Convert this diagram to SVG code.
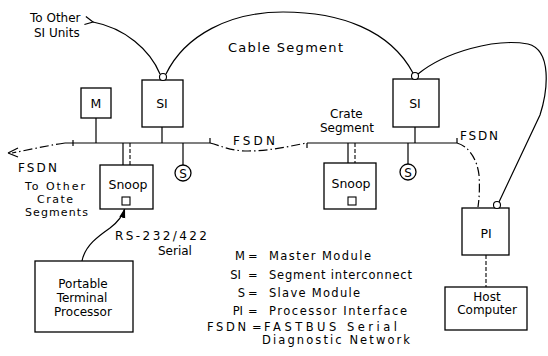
<svg xmlns="http://www.w3.org/2000/svg" width="548" height="356" viewBox="0 0 548 356">
<style>
text{font-family:"DejaVu Sans","Liberation Sans",sans-serif;font-size:12px;fill:#000}
.lg{font-size:11.5px}
.sm{font-size:11px}
.bx{font-size:12.5px}
.box{fill:#fff;stroke:#000;stroke-width:1.3}
.ln{fill:none;stroke:#000;stroke-width:1.2}
.dd{fill:none;stroke:#000;stroke-width:1.2;stroke-dasharray:9 3 1.5 3}
.ds{fill:none;stroke:#000;stroke-width:1.1;stroke-dasharray:4 2}
.port{fill:#fff;stroke:#000;stroke-width:1.1}
.c{text-anchor:middle}
</style>
<defs>
<marker id="open" markerWidth="12" markerHeight="12" refX="1" refY="5" orient="auto-start-reverse" markerUnits="userSpaceOnUse">
<path d="M9,1 L1,5 L9,9" fill="none" stroke="#000" stroke-width="1.2"/>
</marker>
<marker id="fill" markerWidth="12" markerHeight="10" refX="10" refY="4" orient="auto" markerUnits="userSpaceOnUse">
<path d="M0,1 L10,4 L0,7 Z" fill="#000"/>
</marker>
</defs>

<g id="connectors">
<path class="ln" d="M160,74 C150,50 125,28 93,22" marker-end="url(#open)"/>
<path class="ln" d="M166,74 C185,35 230,12 283,12 C340,12 390,30 413,73"/>
<path class="ln" d="M418,74 C445,52 495,38 528,44 C552,50 548,90 540,115 L499,202"/>
<path class="ln" d="M65,143 L210,143 M210,143 L210,138 M73,140 L73,146"/>
<path class="dd" d="M65,143 C45,146 28,150 12,153"/>
<path class="ln" d="M8,153 L18,148 M8,153 L18,157"/>
<path class="dd" d="M210,143 C222,146 230,151 248,151 C270,151 290,146 307,143"/>
<path class="ln" d="M307,143 L457,143 M307,143 L307,148 M457,143 L457,138"/>
<path class="dd" d="M457,143 C468,146 477,158 479,175 C480,190 479,200 478,207"/>
<path class="ln" d="M96,118 L96,143 M162,127 L162,143 M183,143 L183,165 M415,127 L415,143 M408,143 L408,164"/>
<path class="ln" d="M123,143 L123,165 M348,143 L348,163"/>
<path class="ds" d="M130,143 L130,165 M355,143 L355,163"/>
<path class="ds" d="M486,255 L486,287"/>
<path class="ln" d="M82,261 C85,245 100,235 110,228 C118,222 123,215 125,208" marker-end="url(#fill)"/>
</g>

<g id="M"><rect class="box" x="81" y="88" width="30" height="30"/><text class="c bx" x="96" y="108">M</text></g>
<g id="SI1"><rect class="box" x="142" y="80" width="41" height="47"/><circle class="port" cx="163" cy="77" r="3.5"/><text class="c bx" x="162" y="108">SI</text></g>
<g id="SI2"><rect class="box" x="393" y="79" width="46" height="48"/><circle class="port" cx="415" cy="76" r="3.5"/><text class="c bx" x="415" y="108">SI</text></g>
<g id="Snoop1"><rect class="box" x="100" y="165" width="53" height="44"/><rect class="port" x="122" y="197" width="8" height="8"/><text class="c bx" x="128" y="189">Snoop</text></g>
<g id="Snoop2"><rect class="box" x="324" y="163" width="52" height="46"/><rect class="port" x="348" y="197" width="8" height="8"/><text class="c bx" x="351" y="188">Snoop</text></g>
<g id="S1"><circle class="box" cx="183" cy="173" r="8"/><text class="c" x="183" y="177.5">S</text></g>
<g id="S2"><circle class="box" cx="408" cy="172" r="8"/><text class="c" x="408" y="176.5">S</text></g>
<g id="PI"><rect class="box" x="462" y="208" width="47" height="47"/><circle class="port" cx="497" cy="205" r="3.5"/><text class="c bx" x="486" y="238">PI</text></g>
<g id="Host"><rect class="box" x="445" y="287" width="82" height="43"/><text class="c" x="487" y="301">Host</text><text class="c" x="487" y="314">Computer</text></g>
<g id="Portable"><rect class="box" x="35" y="261" width="98" height="71"/><text class="c" x="83" y="288">Portable</text><text class="c" x="82" y="302">Terminal</text><text class="c" x="83" y="316">Processor</text></g>

<g id="labels">
<text x="30" y="22">To Other</text>
<text x="34" y="37">SI Units</text>
<text x="228" y="52" textLength="115" style="font-size:13px">Cable Segment</text>
<text x="330" y="118">Crate</text>
<text x="320" y="132">Segment</text>
<text x="233" y="145" textLength="42">FSDN</text>
<text x="460" y="140" textLength="38">FSDN</text>
<text x="18" y="172" textLength="39">FSDN</text>
<text class="sm" x="25" y="190" textLength="60">To Other</text>
<text class="sm" x="37" y="203" textLength="36">Crate</text>
<text class="sm" x="25" y="216" textLength="63">Segments</text>
<text x="115" y="240" textLength="92">RS-232/422</text>
<text x="158" y="255">Serial</text>
</g>

<g id="legend">
<text class="lg" x="245" y="260" text-anchor="end">M</text><text class="lg" x="248" y="260">=</text><text class="lg" x="269" y="260" textLength="102">Master Module</text>
<text class="lg" x="241" y="279" text-anchor="end">SI</text><text class="lg" x="248" y="279">=</text><text class="lg" x="269" y="279" textLength="143">Segment interconnect</text>
<text class="lg" x="245" y="297" text-anchor="end">S</text><text class="lg" x="248" y="297">=</text><text class="lg" x="269" y="297" textLength="91">Slave Module</text>
<text class="lg" x="243" y="315" text-anchor="end">PI</text><text class="lg" x="248" y="315">=</text><text class="lg" x="269" y="315" textLength="138">Processor Interface</text>
<text class="lg" x="246" y="331" text-anchor="end" textLength="39">FSDN</text><text class="lg" x="252" y="331">=</text><text class="lg" x="264" y="331" textLength="133">FASTBUS Serial</text>
<text class="lg" x="262" y="344" textLength="148">Diagnostic Network</text>
</g>
</svg>
